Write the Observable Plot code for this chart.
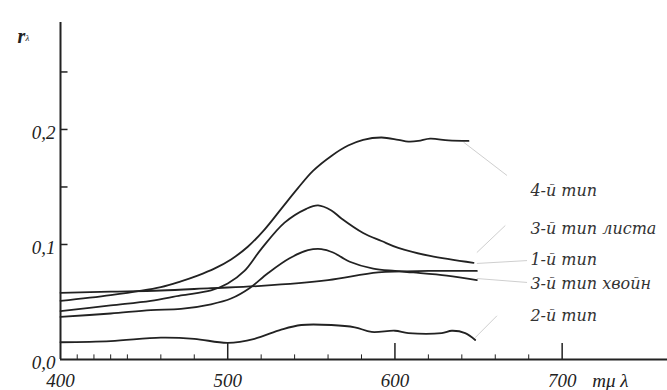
<!DOCTYPE html>
<html>
<head>
<meta charset="utf-8">
<script src="https://cdn.jsdelivr.net/npm/d3@7"></script>
<script src="https://cdn.jsdelivr.net/npm/@observablehq/plot@0.6"></script>
<style>
  html, body { margin: 0; padding: 0; background: #fff; }
  #chart svg { display: block; }
</style>
</head>
<body>
<div id="chart"></div>
<script>
// ---- data ----
const seriesNames = ["4-й тип", "3-й тип листа", "1-й тип", "3-й тип хвойн", "2-й тип"];

const lam4 = [400, 430, 460, 472, 482, 492, 502, 512, 522, 532, 542, 551, 562, 572, 581, 592, 602, 608, 614, 621, 632, 644];
const r4   = [0.051, 0.056, 0.063, 0.068, 0.073, 0.079, 0.087, 0.098, 0.113, 0.131, 0.149, 0.164, 0.177, 0.186, 0.191, 0.193, 0.191, 0.1895, 0.190, 0.192, 0.1905, 0.190];

const lam3l = [400, 430, 454, 472, 490, 500, 510, 520, 534, 547, 554, 562, 568, 581, 592, 602, 621, 647];
const r3l   = [0.042, 0.047, 0.051, 0.0557, 0.060, 0.066, 0.077, 0.096, 0.119, 0.131, 0.134, 0.1296, 0.1226, 0.110, 0.103, 0.097, 0.090, 0.084];

const lam1 = [400, 430, 454, 472, 490, 502, 513, 524, 537, 548, 556, 563, 568, 573, 587, 600, 611, 631, 649];
const r1   = [0.037, 0.040, 0.043, 0.044, 0.048, 0.053, 0.062, 0.075, 0.088, 0.095, 0.096, 0.093, 0.089, 0.085, 0.079, 0.077, 0.0757, 0.073, 0.069];

const lam3c = [400, 430, 460, 490, 520, 560, 590, 620, 649];
const r3c   = [0.058, 0.059, 0.060, 0.062, 0.064, 0.069, 0.0757, 0.077, 0.077];

const lam2 = [400, 430, 460, 480, 500, 516, 532, 544, 562, 576, 586, 600, 608, 628, 634, 642, 648];
const r2   = [0.015, 0.016, 0.019, 0.018, 0.0145, 0.018, 0.026, 0.030, 0.030, 0.028, 0.024, 0.025, 0.023, 0.023, 0.025, 0.023, 0.017];

// label anchor and leader line ends
const labelLam = [681, 681, 681, 681, 681];
const labelR   = [0.147, 0.114, 0.087, 0.066, 0.038];
const leadFromLam = [641, 649, 649, 649, 648];
const leadFromR   = [0.189, 0.093, 0.0835, 0.0704, 0.019];
const leadToLam   = [667, 666, 679, 679, 661];
const leadToR     = [0.160, 0.1165, 0.086, 0.067, 0.038];

const xTicks = [400, 500, 600, 700];
const xTickLabels = ["400", "500", "600", "700"];
const xMinor = [410, 420, 430, 440, 460, 480, 520, 540, 560, 580, 620, 640, 660, 680];
const yTicks = [0, 0.1, 0.2];
const yTickLabels = ["0,0", "0,1", "0,2"];
const yMinor = [0.1, 0.15, 0.2, 0.25];

// ---- build table ----
const lams = [lam4, lam3l, lam1, lam3c, lam2];
const rs = [r4, r3l, r1, r3c, r2];
const rows = [];
seriesNames.forEach((name, i) => lams[i].forEach((l, j) => rows.push({series: name, lam: l, r: rs[i][j]})));
const labels = seriesNames.map((name, i) => ({name, lam: labelLam[i], r: labelR[i]}));
const leaders = seriesNames.map((name, i) => ({x1: leadFromLam[i], y1: leadFromR[i], x2: leadToLam[i], y2: leadToR[i]}));

const ink = "#222";
const serif = "'Liberation Serif', 'DejaVu Serif', serif";

const plot = Plot.plot({
  width: 667,
  height: 390,
  marginLeft: 60,
  marginRight: 0,
  marginTop: 22,
  marginBottom: 31,
  x: {domain: [400, 763], axis: null},
  y: {domain: [0, 0.293], axis: null},
  style: {fontFamily: serif, background: "#fff"},
  marks: [
    // axes
    Plot.ruleX([400], {y1: 0, y2: 0.293, stroke: ink, strokeWidth: 2}),
    Plot.ruleY([0], {x1: 400, x2: 763, stroke: ink, strokeWidth: 2}),
    Plot.ruleX(xTicks.slice(1), {y1: 0, y2: 0.014, stroke: ink, strokeWidth: 1.5}),
    Plot.ruleX(xMinor, {y1: 0, y2: 0.004, stroke: ink, strokeWidth: 1}),
    Plot.ruleY(yMinor, {x1: 400, x2: 404.5, stroke: ink, strokeWidth: 1.5}),
    Plot.text(xTicks, {x: d => d, y: 0, text: (d, i) => xTickLabels[i], dy: 21, fontSize: 19, fontStyle: "italic", fill: ink}),
    Plot.text(yTicks, {x: 400, y: d => d, text: (d, i) => yTickLabels[i], dx: -5, dy: 3, textAnchor: "end", fontSize: 19, fontStyle: "italic", fill: ink}),
    Plot.text(["mμ λ"], {x: 718, y: 0, dy: 21, textAnchor: "start", fontSize: 19, fontStyle: "italic", fill: ink, style: "letter-spacing:1.5px"}),
    Plot.text(["r"], {frameAnchor: "top-left", dx: -43, dy: 6, fontSize: 20, fontStyle: "italic", fontWeight: "bold", fill: ink}),
    Plot.text(["λ"], {frameAnchor: "top-left", dx: -35, dy: 12, fontSize: 9, fontStyle: "italic", fill: ink}),
    // leaders
    Plot.link(leaders, {x1: "x1", y1: "y1", x2: "x2", y2: "y2", stroke: "#cfcfcf", strokeWidth: 1}),
    // curves
    Plot.line(rows, {x: "lam", y: "r", z: "series", curve: "catmull-rom", stroke: ink, strokeWidth: 1.8}),
    // labels
    Plot.text(labels, {x: "lam", y: "r", text: "name", textAnchor: "start", fontSize: 16, fontStyle: "italic", fontFamily: "'DejaVu Serif', serif", fill: "#333", style: "letter-spacing:1px"})
  ]
});
document.getElementById("chart").appendChild(plot);
</script>
</body>
</html>
